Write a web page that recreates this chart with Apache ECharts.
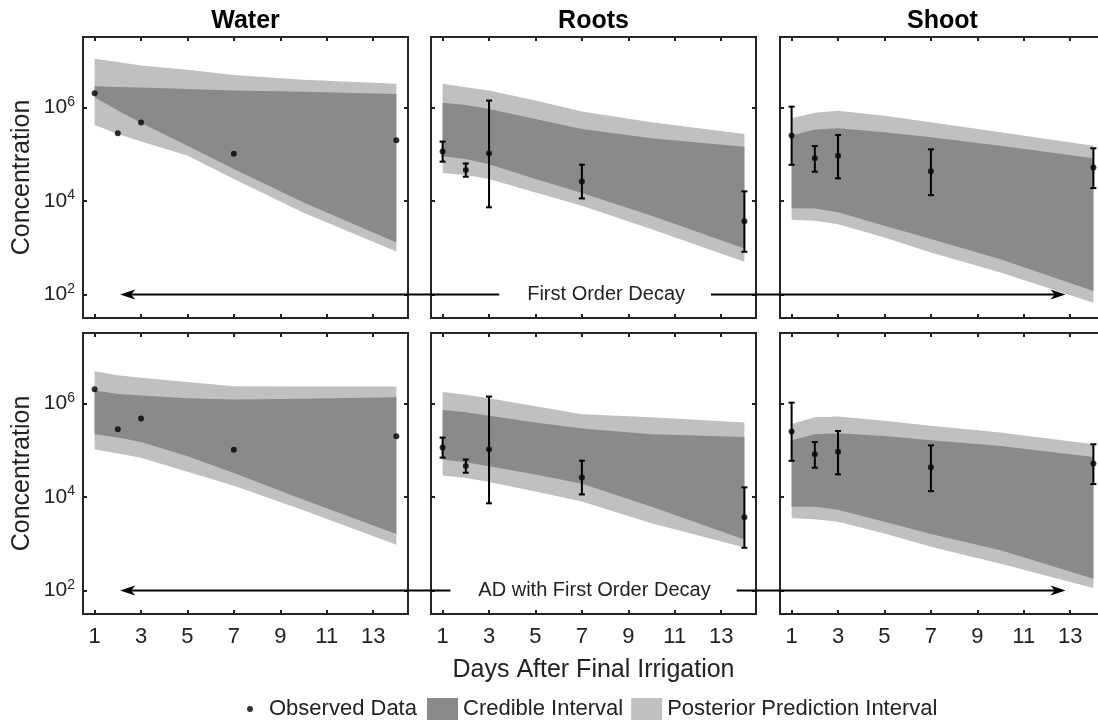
<!DOCTYPE html>
<html style="height: 100%">
<head>
    <meta charset="utf-8">
    <script src="https://cdn.jsdelivr.net/npm/echarts@6/dist/echarts.min.js"></script>
</head>
<body style="height: 100%; margin: 0; background-color: #fff;">
    <div id="container" style="width: 1098px; height: 722px;"></div>
    <script type="text/javascript">
        // days with observations / days the model bands are read at
        var days = [1, 2, 3, 7, 14];
        var bandDays = [1, 2, 3, 5, 7, 10, 14];
        var xTicks = [1, 3, 5, 7, 9, 11, 13];
        var yTicks = [1e2, 1e4, 1e6];
        var panelNames = ['Water', 'Roots', 'Shoot'];
        var rowLabels = ['First Order Decay', 'AD with First Order Decay'];

        // observed data (same in both rows)
        var waterObs = [2.0e6, 2.78e5, 4.7e5, 1.02e5, 1.97e5];
        var rootsObs = [1.13e5, 4.57e4, 1.04e5, 2.61e4, 3.7e3];
        var rootsLow = [6.9e4, 3.29e4, 7.3e3, 1.13e4, 8.2e2];
        var rootsHigh = [1.85e5, 6.3e4, 1.39e6, 5.94e4, 1.6e4];
        var shootObs = [2.48e5, 8.1e4, 9.2e4, 4.3e4, 5.2e4];
        var shootLow = [5.9e4, 4.2e4, 3.03e4, 1.33e4, 1.88e4];
        var shootHigh = [1.03e6, 1.49e5, 2.56e5, 1.26e5, 1.33e5];

        // First Order Decay (top row): posterior prediction (pi) and credible (ci) bounds
        var fodWaterPiHi = [1.08e7, 9.2e6, 7.8e6, 6.3e6, 4.9e6, 3.85e6, 3.16e6];
        var fodWaterCiHi = [2.81e6, 2.72e6, 2.63e6, 2.45e6, 2.29e6, 2.14e6, 1.93e6];
        var fodWaterCiLo = [1.64e6, 8.5e5, 4.6e5, 1.51e5, 4.8e4, 9.3e3, 1.29e3];
        var fodWaterPiLo = [4.2e5, 2.7e5, 1.86e5, 9.3e4, 2.95e4, 5.6e3, 832];

        var fodRootsPiHi = [3.16e6, 2.68e6, 2.28e6, 1.39e6, 8.1e5, 4.8e5, 2.69e5];
        var fodRootsCiHi = [1.24e6, 1.12e6, 9.2e5, 5.6e5, 3.44e5, 2.17e5, 1.44e5];
        var fodRootsCiLo = [9.0e4, 7.9e4, 6.1e4, 2.93e4, 1.47e4, 4.8e3, 964];
        var fodRootsPiLo = [3.94e4, 3.57e4, 2.93e4, 1.51e4, 7.9e3, 2.49e3, 500];

        var fodShootPiHi = [5.8e5, 7.6e5, 8.4e5, 6.6e5, 4.8e5, 2.92e5, 1.51e5];
        var fodShootCiHi = [2.48e5, 3.33e5, 3.56e5, 2.92e5, 2.28e5, 1.51e5, 8.1e4];
        var fodShootCiLo = [7.0e3, 6.9e3, 5.7e3, 2.94e3, 1.53e3, 570, 120];
        var fodShootPiLo = [3.95e3, 3.77e3, 3.19e3, 1.66e3, 791, 295, 67];

        // AD with First Order Decay (bottom row)
        var adWaterPiHi = [4.8e6, 3.95e6, 3.52e6, 2.83e6, 2.32e6, 2.29e6, 2.29e6];
        var adWaterCiHi = [1.87e6, 1.58e6, 1.46e6, 1.28e6, 1.2e6, 1.24e6, 1.35e6];
        var adWaterCiLo = [2.18e5, 1.85e5, 1.49e5, 7.4e4, 3.24e4, 8.7e3, 1.62e3];
        var adWaterPiLo = [1.04e5, 8.5e4, 6.9e4, 3.43e4, 1.74e4, 5.2e3, 955];

        var adRootsPiHi = [1.73e6, 1.51e6, 1.28e6, 8.6e5, 5.8e5, 5.0e5, 3.89e5];
        var adRootsCiHi = [7.2e5, 6.4e5, 5.4e5, 3.89e5, 2.89e5, 2.18e5, 1.91e5];
        var adRootsCiLo = [6.3e4, 5.5e4, 4.5e4, 3.0e4, 1.92e4, 6.2e3, 1.23e3];
        var adRootsPiLo = [2.86e4, 2.55e4, 2.09e4, 1.31e4, 8.0e3, 2.73e3, 830];

        var adShootPiHi = [3.59e5, 5.0e5, 5.2e5, 4.24e5, 3.3e5, 2.37e5, 1.33e5];
        var adShootCiHi = [1.62e5, 2.18e5, 2.3e5, 2.01e5, 1.62e5, 1.22e5, 7.1e4];
        var adShootCiLo = [6.2e3, 6.2e3, 5.3e3, 2.96e3, 1.61e3, 728, 178];
        var adShootPiLo = [3.5e3, 3.33e3, 2.96e3, 1.66e3, 859, 376, 114];

        var panels = [
            { obs: waterObs, piHi: fodWaterPiHi, ciHi: fodWaterCiHi, ciLo: fodWaterCiLo, piLo: fodWaterPiLo },
            { obs: rootsObs, low: rootsLow, high: rootsHigh, piHi: fodRootsPiHi, ciHi: fodRootsCiHi, ciLo: fodRootsCiLo, piLo: fodRootsPiLo },
            { obs: shootObs, low: shootLow, high: shootHigh, piHi: fodShootPiHi, ciHi: fodShootCiHi, ciLo: fodShootCiLo, piLo: fodShootPiLo },
            { obs: waterObs, piHi: adWaterPiHi, ciHi: adWaterCiHi, ciLo: adWaterCiLo, piLo: adWaterPiLo },
            { obs: rootsObs, low: rootsLow, high: rootsHigh, piHi: adRootsPiHi, ciHi: adRootsCiHi, ciLo: adRootsCiLo, piLo: adRootsPiLo },
            { obs: shootObs, low: shootLow, high: shootHigh, piHi: adShootPiHi, ciHi: adShootCiHi, ciLo: adShootCiLo, piLo: adShootPiLo }
        ];

        var textColor = '#222';
        var fontFamily = '"Liberation Sans", Arial, sans-serif';
        var darkGray = '#8a8a8a';
        var lightGray = '#c0c0c0';
        var gridLeft = [83, 431, 780];
        var gridTop = [37, 333];

        var dom = document.getElementById("container");
        var myChart = echarts.init(dom);

        var grids = [], xAxes = [], yAxes = [], series = [];

        var tickStyle = { show: true, inside: true, length: 4, lineStyle: { color: textColor, width: 2 } };

        for (var g = 0; g < 6; g++) {
            var row = Math.floor(g / 3), col = g % 3;
            grids.push({
                left: gridLeft[col], top: gridTop[row], width: 325, height: 281,
                outerBoundsMode: 'none', containLabel: false,
                show: true, borderColor: '#262626', borderWidth: 2
            });
            // bottom + top x axes
            xAxes.push({
                gridIndex: g, type: 'value', min: 0.5, max: 14.5, position: 'bottom',
                axisLine: { show: false, onZero: false },
                axisTick: Object.assign({ customValues: xTicks }, tickStyle),
                axisLabel: {
                    show: row === 1, customValues: xTicks, fontSize: 22, margin: 12,
                    color: textColor, fontFamily: fontFamily
                },
                splitLine: { show: false },
                name: (g === 4) ? 'Days After Final Irrigation' : '',
                nameLocation: 'middle', nameGap: 44,
                nameTextStyle: { fontSize: 25, color: textColor, fontFamily: fontFamily }
            });
            xAxes.push({
                gridIndex: g, type: 'value', min: 0.5, max: 14.5, position: 'top',
                axisLine: { show: false, onZero: false },
                axisTick: Object.assign({ customValues: xTicks }, tickStyle),
                axisLabel: { show: false },
                splitLine: { show: false },
                name: row === 0 ? panelNames[col] : '',
                nameLocation: 'middle', nameGap: 3,
                nameTextStyle: { fontSize: 25, fontWeight: 'bold', color: '#000', fontFamily: fontFamily }
            });
            // left + right y axes (log)
            yAxes.push({
                gridIndex: g, type: 'log', logBase: 10, min: Math.pow(10, 1.5), max: Math.pow(10, 7.5),
                position: 'left',
                axisLine: { show: false, onZero: false },
                axisTick: Object.assign({ customValues: yTicks }, tickStyle),
                axisLabel: {
                    show: col === 0, customValues: yTicks, fontSize: 21, margin: 8,
                    color: textColor, fontFamily: fontFamily,
                    formatter: function (v) {
                        return '10{sup|' + Math.round(Math.log10(v)) + '}';
                    },
                    rich: { sup: { fontSize: 14, padding: [0, 0, 11, 0], color: textColor, fontFamily: fontFamily } }
                },
                splitLine: { show: false },
                minorTick: { show: false },
                name: col === 0 ? 'Concentration' : '',
                nameLocation: 'middle', nameGap: 48,
                nameTextStyle: { fontSize: 25, color: textColor, fontFamily: fontFamily }
            });
            yAxes.push({
                gridIndex: g, type: 'log', logBase: 10, min: Math.pow(10, 1.5), max: Math.pow(10, 7.5),
                position: 'right',
                axisLine: { show: false, onZero: false },
                axisTick: Object.assign({ customValues: yTicks }, tickStyle),
                axisLabel: { show: false },
                splitLine: { show: false }
            });

            var p = panels[g];
            series.push(bandSeries(g, p.piLo, p.piHi, lightGray, 'Posterior Prediction Interval'));
            series.push(bandSeries(g, p.ciLo, p.ciHi, darkGray, 'Credible Interval'));
            if (p.low) {
                series.push(errorSeries(g, p.low, p.high));
            }
            series.push({
                type: 'scatter', name: 'Observed Data',
                xAxisIndex: g * 2, yAxisIndex: g * 2,
                data: days.map(function (d, i) { return [d, p.obs[i]]; }),
                symbolSize: 6, itemStyle: { color: '#000' }, z: 5, silent: true
            });
        }

        function bandSeries(g, lower, upper, color, name) {
            return {
                type: 'custom', name: name,
                xAxisIndex: g * 2, yAxisIndex: g * 2,
                itemStyle: { color: color },
                silent: true,
                data: [[bandDays[0], lower[0]]],
                renderItem: function (params, api) {
                    var pts = [];
                    for (var i = 0; i < bandDays.length; i++) {
                        pts.push(api.coord([bandDays[i], upper[i]]));
                    }
                    for (var j = bandDays.length - 1; j >= 0; j--) {
                        pts.push(api.coord([bandDays[j], lower[j]]));
                    }
                    return { type: 'polygon', shape: { points: pts }, style: { fill: color } };
                }
            };
        }

        function errorSeries(g, low, high) {
            return {
                type: 'custom',
                xAxisIndex: g * 2, yAxisIndex: g * 2,
                silent: true, z: 4,
                encode: { x: 0, y: [1, 2] },
                data: days.map(function (d, i) { return [d, low[i], high[i]]; }),
                renderItem: function (params, api) {
                    var x = api.value(0);
                    var lo = api.coord([x, api.value(1)]);
                    var hi = api.coord([x, api.value(2)]);
                    var w = 3;
                    var st = { stroke: '#000', lineWidth: 2 };
                    return {
                        type: 'group', children: [
                            { type: 'line', shape: { x1: lo[0], y1: lo[1], x2: hi[0], y2: hi[1] }, style: st },
                            { type: 'line', shape: { x1: lo[0] - w, y1: lo[1], x2: lo[0] + w, y2: lo[1] }, style: st },
                            { type: 'line', shape: { x1: hi[0] - w, y1: hi[1], x2: hi[0] + w, y2: hi[1] }, style: st }
                        ]
                    };
                }
            };
        }

        option = {
            backgroundColor: '#fff',
            animation: false,
            textStyle: { fontFamily: fontFamily },
            grid: grids,
            xAxis: xAxes,
            yAxis: yAxes,
            legend: [
                {
                    data: [{ name: 'Observed Data', icon: 'circle' }],
                    left: 247, top: 698, itemWidth: 28, itemHeight: 6, padding: 0,
                    selectedMode: false,
                    textStyle: { fontSize: 22, color: textColor, fontFamily: fontFamily }
                },
                {
                    data: [{ name: 'Credible Interval', icon: 'rect' }, { name: 'Posterior Prediction Interval', icon: 'rect' }],
                    left: 427, top: 698, itemWidth: 31, itemHeight: 22, itemGap: 8, padding: 0,
                    selectedMode: false,
                    textStyle: { fontSize: 22, color: textColor, fontFamily: fontFamily }
                }
            ],
            series: series
        };
        myChart.setOption(option, true);

        // arrows across each row, placed in data coordinates of the panels
        var arrowFrom = 2.1, arrowTo = 12.8, labelX = [8, 7.5];
        var graphics = [];
        for (var r = 0; r < 2; r++) {
            var a = myChart.convertToPixel({ xAxisIndex: r * 6, yAxisIndex: r * 6 }, [arrowFrom, 100]);
            var b = myChart.convertToPixel({ xAxisIndex: r * 6 + 4, yAxisIndex: r * 6 + 4 }, [arrowTo, 100]);
            var c = myChart.convertToPixel({ xAxisIndex: r * 6 + 2, yAxisIndex: r * 6 + 2 }, [labelX[r], 100]);
            graphics.push({
                type: 'line', z: 100,
                shape: { x1: a[0] + 4, y1: a[1], x2: b[0] - 4, y2: b[1] },
                style: { stroke: '#000', lineWidth: 2 }
            });
            graphics.push({
                type: 'polygon', z: 100,
                shape: { points: [[a[0], a[1]], [a[0] + 15, a[1] - 5], [a[0] + 11, a[1]], [a[0] + 15, a[1] + 5]] },
                style: { fill: '#000' }
            });
            graphics.push({
                type: 'polygon', z: 100,
                shape: { points: [[b[0], b[1]], [b[0] - 15, b[1] - 5], [b[0] - 11, b[1]], [b[0] - 15, b[1] + 5]] },
                style: { fill: '#000' }
            });
            graphics.push({
                type: 'text', z: 101, x: c[0], y: c[1],
                style: {
                    text: rowLabels[r], fontSize: 20, fontFamily: fontFamily, fill: textColor,
                    align: 'center', verticalAlign: 'middle',
                    backgroundColor: '#fff', padding: [3, 26, 3, 28]
                }
            });
        }
        myChart.setOption({ graphic: graphics });
    </script>
</body>
</html>
